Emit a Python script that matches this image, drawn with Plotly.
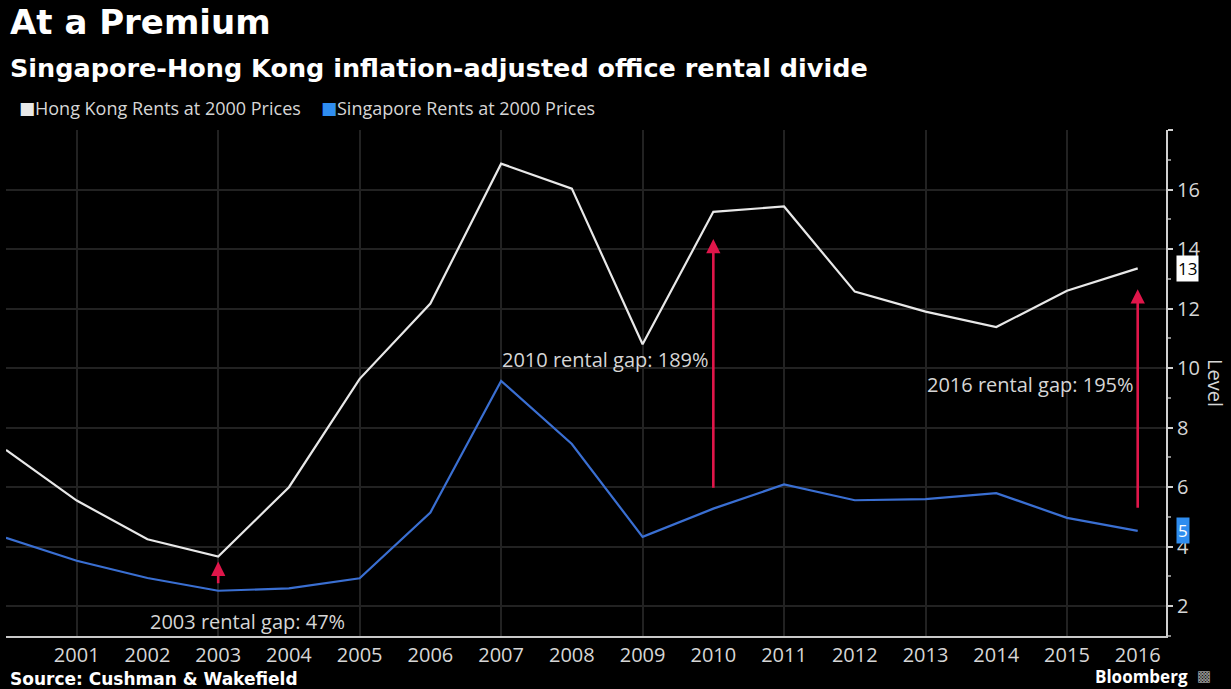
import plotly.graph_objects as go

# Office rents at 2000 prices, annual
years = list(range(2000, 2017))
hong_kong = [7.25, 5.55, 4.25, 3.67, 6.0, 9.64, 12.17, 16.87, 16.03, 10.8, 15.25,
             15.43, 12.57, 11.9, 11.38, 12.6, 13.35]
singapore = [4.3, 3.53, 2.95, 2.52, 2.6, 2.94, 5.15, 9.57, 7.45, 4.33, 5.28,
             6.09, 5.56, 5.6, 5.8, 4.97, 4.53]

tick_years = list(range(2001, 2017))
grid_years = list(range(2001, 2016, 2))
level_ticks = [2, 4, 6, 8, 10, 12, 14, 16, 18]
level_labels = ["2", "4", "6", "8", "10", "12", "14", "16", ""]

series_names = ["Hong Kong Rents at 2000 Prices", "Singapore Rents at 2000 Prices"]

# Rental gap call-outs: year, arrow base, arrow tip, text, text position
gap_years = [2003, 2010, 2016]
gap_base = [2.72, 5.93, 5.26]
gap_tip = [3.5, 14.34, 12.65]
gap_text = ["2003 rental gap: 47%", "2010 rental gap: 189%", "2016 rental gap: 195%"]
gap_text_x = [2003.42, 2009.97, 2015.97]
gap_text_y = [1.5, 10.3, 9.45]
gap_text_anchor = ["center", "right", "right"]

HK_COLOR = "#e8e8e8"
SG_COLOR = "#3a6fd2"
TAG_BLUE = "#2f8df0"
ARROW_RED = "#e0164a"
TEXT = "#d6d6d6"
GRID = "#222222"
BODY_FONT = "Open Sans"

fig = go.Figure()
fig.add_trace(go.Scatter(x=years, y=hong_kong, mode="lines", name=series_names[0],
                         line=dict(color=HK_COLOR, width=2.2), showlegend=False))
fig.add_trace(go.Scatter(x=years, y=singapore, mode="lines", name=series_names[1],
                         line=dict(color=SG_COLOR, width=2.2), showlegend=False))

# Pointers of the last-value tags on the axis
fig.add_trace(go.Scatter(x=[2016.5, 2016.5], y=[hong_kong[-1], singapore[-1]],
                         mode="markers", cliponaxis=False, showlegend=False,
                         marker=dict(symbol="triangle-left", size=13,
                                     color=["#ffffff", TAG_BLUE], line=dict(width=0))))

annotations = []
for yr, base, tip in zip(gap_years, gap_base, gap_tip):
    annotations.append(dict(x=yr, y=tip, ax=yr, ay=base, xref="x", yref="y",
                            axref="x", ayref="y", text="", showarrow=True,
                            arrowhead=2, arrowsize=1.1, arrowwidth=2.6,
                            arrowcolor=ARROW_RED))
for tx, ty, t, anc in zip(gap_text_x, gap_text_y, gap_text, gap_text_anchor):
    annotations.append(dict(x=tx, y=ty, xref="x", yref="y", text=t, showarrow=False,
                            xanchor=anc, yanchor="middle",
                            font=dict(family=BODY_FONT, size=20, color=TEXT)))

# Last-value tags
annotations.append(dict(x=1, y=hong_kong[-1], xref="paper", yref="y",
                        text=str(round(hong_kong[-1])), showarrow=False,
                        xanchor="left", yanchor="middle", xshift=10,
                        bgcolor="#ffffff", borderpad=1,
                        font=dict(family=BODY_FONT, size=17, color="#000000")))
annotations.append(dict(x=1, y=singapore[-1], xref="paper", yref="y",
                        text=str(round(singapore[-1])), showarrow=False,
                        xanchor="left", yanchor="middle", xshift=10,
                        bgcolor=TAG_BLUE, borderpad=1,
                        font=dict(family=BODY_FONT, size=17, color="#ffffff")))

# Axis title
annotations.append(dict(x=1, y=0.5, xref="paper", yref="paper", text="Level",
                        textangle=90, showarrow=False, xanchor="center",
                        yanchor="middle", xshift=50,
                        font=dict(family=BODY_FONT, size=20, color=TEXT)))

# Legend: colour squares and series names
legend_square_x = [0.0095, 0.2695]
legend_text_x = [0.0235, 0.2835]
for sx, tx, col, name in zip(legend_square_x, legend_text_x,
                             [HK_COLOR, TAG_BLUE], series_names):
    annotations.append(dict(x=sx, y=1.043, xref="paper", yref="paper", text="■",
                            showarrow=False, xanchor="left", yanchor="middle",
                            font=dict(family="DejaVu Sans", size=17, color=col)))
    annotations.append(dict(x=tx, y=1.043, xref="paper", yref="paper", text=name,
                            showarrow=False, xanchor="left", yanchor="middle",
                            font=dict(family=BODY_FONT, size=18, color=TEXT)))

# Headline, subtitle, source and brand
annotations += [
    dict(x=0.0017, y=1.2134, xref="paper", yref="paper", text="<b>At a Premium</b>",
         showarrow=False, xanchor="left", yanchor="middle",
         font=dict(family="DejaVu Sans", size=34, color="#ffffff")),
    dict(x=0.0017, y=1.122, xref="paper", yref="paper",
         text="<b>Singapore-Hong Kong inflation-adjusted office rental divide</b>",
         showarrow=False, xanchor="left", yanchor="middle",
         font=dict(family="DejaVu Sans", size=25.5, color="#ffffff")),
    dict(x=0.0017, y=-0.0855, xref="paper", yref="paper",
         text="<b>Source: Cushman &amp; Wakefield</b>",
         showarrow=False, xanchor="left", yanchor="middle",
         font=dict(family="DejaVu Sans", size=17, color="#ffffff")),
    dict(x=1.0207, y=-0.08, xref="paper", yref="paper", text="<b>Bloomberg</b>",
         showarrow=False, xanchor="right", yanchor="middle",
         font=dict(family=BODY_FONT, size=17, color="#ffffff")),
    dict(x=1.0207, y=-0.08, xref="paper", yref="paper", text="▩",
         showarrow=False, xanchor="left", yanchor="middle", xshift=5,
         font=dict(family="DejaVu Sans", size=15, color="#9a9a9a")),
]

fig.update_layout(
    width=1231, height=689,
    paper_bgcolor="#000000", plot_bgcolor="#000000",
    margin=dict(l=6, r=65, t=130, b=53),
    showlegend=False,
    annotations=annotations,
    xaxis=dict(range=[2000, 2016.4], tickvals=tick_years,
               ticktext=[str(y) for y in tick_years], showgrid=False,
               showline=True, linecolor="#c8c8c8", linewidth=1.5,
               ticks="", zeroline=False,
               tickfont=dict(family=BODY_FONT, size=20, color=TEXT),
               minor=dict(tickvals=grid_years, showgrid=True, gridcolor=GRID,
                          gridwidth=1.5)),
    yaxis=dict(range=[1, 18], side="right", tickvals=level_ticks,
               ticktext=level_labels, showgrid=True, gridcolor=GRID,
               gridwidth=1.5, zeroline=False, showline=True,
               linecolor="#d0d0d0", linewidth=2, ticks="outside", ticklen=5,
               tickwidth=2, tickcolor="#d0d0d0",
               tickfont=dict(family=BODY_FONT, size=20, color=TEXT),
               minor=dict(dtick=1, tick0=0, ticks="outside", ticklen=3,
                          tickcolor="#8a8a8a", showgrid=False)),
)

fig.write_html("out.html")
